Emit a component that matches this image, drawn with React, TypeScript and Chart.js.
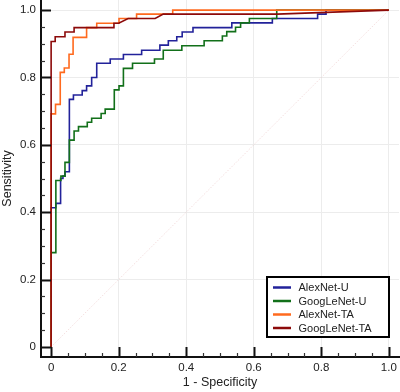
import React, { useEffect, useRef } from "react";
import { Chart, registerables } from "chart.js";

Chart.register(...registerables);

// ---- Data ----
const seriesNames = ["AlexNet-U", "GoogLeNet-U", "AlexNet-TA", "GoogLeNet-TA"];
const seriesColors = ["#22229a", "#12701a", "#ff6a1e", "#8c0a0a"];

const xTicks = [0, 0.2, 0.4, 0.6, 0.8, 1.0];
const xTickLabels = ["0", "0.2", "0.4", "0.6", "0.8", "1.0"];
const yTicks = [0, 0.2, 0.4, 0.6, 0.8, 1.0];
const yTickLabels = ["0", "0.2", "0.4", "0.6", "0.8", "1.0"];

const alexU_fpr = [0, 0, 0.014, 0.014, 0.028, 0.028, 0.035, 0.035, 0.041, 0.041, 0.054, 0.054, 0.066, 0.066, 0.092, 0.092, 0.105, 0.105, 0.12, 0.12, 0.135, 0.135, 0.175, 0.175, 0.214, 0.214, 0.268, 0.268, 0.322, 0.322, 0.347, 0.347, 0.372, 0.372, 0.388, 0.388, 0.42, 0.42, 0.535, 0.535, 0.655, 0.655, 0.789, 0.789, 0.814, 0.814, 1];
const alexU_tpr = [0, 0.413, 0.413, 0.426, 0.426, 0.5, 0.5, 0.507, 0.507, 0.52, 0.52, 0.735, 0.735, 0.748, 0.748, 0.761, 0.761, 0.775, 0.775, 0.8, 0.8, 0.842, 0.842, 0.855, 0.855, 0.868, 0.868, 0.881, 0.881, 0.896, 0.896, 0.909, 0.909, 0.921, 0.921, 0.935, 0.935, 0.948, 0.948, 0.962, 0.962, 0.975, 0.975, 0.988, 0.988, 1, 1];

const googU_fpr = [0, 0, 0.014, 0.014, 0.029, 0.029, 0.041, 0.041, 0.054, 0.054, 0.068, 0.068, 0.081, 0.081, 0.107, 0.107, 0.12, 0.12, 0.148, 0.148, 0.16, 0.16, 0.187, 0.187, 0.201, 0.201, 0.214, 0.214, 0.241, 0.241, 0.306, 0.306, 0.332, 0.332, 0.387, 0.387, 0.453, 0.453, 0.507, 0.507, 0.52, 0.52, 0.546, 0.546, 0.561, 0.561, 0.587, 0.587, 0.668, 0.668, 1];
const googU_tpr = [0, 0.28, 0.28, 0.494, 0.494, 0.507, 0.507, 0.548, 0.548, 0.614, 0.614, 0.641, 0.641, 0.654, 0.654, 0.667, 0.667, 0.679, 0.679, 0.693, 0.693, 0.706, 0.706, 0.763, 0.763, 0.775, 0.775, 0.827, 0.827, 0.842, 0.842, 0.855, 0.855, 0.881, 0.881, 0.894, 0.894, 0.909, 0.909, 0.923, 0.923, 0.936, 0.936, 0.949, 0.949, 0.962, 0.962, 0.975, 0.975, 1, 1];

const alexTA_fpr = [0, 0, 0.013, 0.013, 0.027, 0.027, 0.039, 0.039, 0.053, 0.053, 0.065, 0.065, 0.105, 0.105, 0.135, 0.135, 0.201, 0.201, 0.253, 0.253, 0.36, 0.36, 1];
const alexTA_tpr = [0, 0.692, 0.692, 0.72, 0.72, 0.815, 0.815, 0.828, 0.828, 0.869, 0.869, 0.919, 0.919, 0.948, 0.948, 0.961, 0.961, 0.975, 0.975, 0.988, 0.988, 1, 1];

const googTA_fpr = [0, 0, 0.012, 0.012, 0.041, 0.041, 0.068, 0.068, 0.186, 0.186, 0.2, 0.228, 0.308, 0.332, 0.669, 1];
const googTA_tpr = [0, 0.907, 0.907, 0.921, 0.921, 0.935, 0.935, 0.948, 0.948, 0.961, 0.961, 0.975, 0.975, 0.988, 0.988, 1];

const refLine_x = [0, 1];
const refLine_y = [0, 1];

const FONT = "'Liberation Sans', Arial, Helvetica, sans-serif";

function pts(xs: number[], ys: number[]) {
  return xs.map((x, i) => ({ x, y: ys[i] }));
}

const insideTicksPlugin = {
  id: "insideTicks",
  afterDraw(chart: any) {
    const ctx = chart.ctx;
    const xs = chart.scales.x;
    const ys = chart.scales.y;
    const area = chart.chartArea;
    ctx.save();
    for (let k = 0; k <= 20; k++) {
      const v = k * 0.05;
      const major = k % 4 === 0;
      const len = major ? 10 : 4;
      ctx.strokeStyle = major ? "#111" : "#333";
      ctx.lineWidth = major ? 2 : 1.2;
      const px = Math.round(xs.getPixelForValue(v)) + 0.5;
      ctx.beginPath();
      ctx.moveTo(px, area.bottom);
      ctx.lineTo(px, area.bottom - len);
      ctx.stroke();
      const py = Math.round(ys.getPixelForValue(v)) + 0.5;
      ctx.beginPath();
      ctx.moveTo(area.left, py);
      ctx.lineTo(area.left + len, py);
      ctx.stroke();
    }
    ctx.restore();
  },
};

const boxLegendPlugin = {
  id: "boxLegend",
  afterDraw(chart: any) {
    const ctx = chart.ctx;
    const area = chart.chartArea;
    const w = 122;
    const h = 60;
    const right = area.right - 10;
    const bottom = area.bottom - 20;
    const left = right - w;
    const top = bottom - h;
    ctx.save();
    ctx.fillStyle = "#fff";
    ctx.fillRect(left, top, w, h);
    ctx.strokeStyle = "#000";
    ctx.lineWidth = 2;
    ctx.strokeRect(left, top, w, h);
    ctx.font = `11px ${FONT}`;
    ctx.textBaseline = "middle";
    ctx.textAlign = "left";
    seriesNames.forEach((name, i) => {
      const y = top + 10.5 + i * 13.5;
      ctx.strokeStyle = seriesColors[i];
      ctx.lineWidth = 2.5;
      ctx.beginPath();
      ctx.moveTo(left + 6, y);
      ctx.lineTo(left + 24, y);
      ctx.stroke();
      ctx.fillStyle = "#222";
      ctx.fillText(name, left + 31.5, y + 0.5);
    });
    ctx.restore();
  },
};

export default function App() {
  const ref = useRef<HTMLCanvasElement | null>(null);

  useEffect(() => {
    if (!ref.current) return;
    const lineDs = (label: string, xs: number[], ys: number[], color: string, order: number) => ({
      label,
      data: pts(xs, ys),
      borderColor: color,
      backgroundColor: color,
      borderWidth: 1.6,
      pointRadius: 0,
      fill: false,
      tension: 0,
      order,
      clip: false as any,
    });
    const chart = new Chart(ref.current, {
      type: "line",
      data: {
        datasets: [
          lineDs(seriesNames[3], googTA_fpr, googTA_tpr, seriesColors[3], 0),
          lineDs(seriesNames[2], alexTA_fpr, alexTA_tpr, seriesColors[2], 1),
          lineDs(seriesNames[1], googU_fpr, googU_tpr, seriesColors[1], 2),
          lineDs(seriesNames[0], alexU_fpr, alexU_tpr, seriesColors[0], 3),
          {
            label: "ref",
            data: pts(refLine_x, refLine_y),
            borderColor: "rgba(225,170,170,0.55)",
            borderWidth: 0.7,
            borderDash: [1.5, 1.5],
            pointRadius: 0,
            fill: false,
            order: 5,
          } as any,
        ],
      },
      options: {
        animation: false,
        responsive: false,
        maintainAspectRatio: false,
        parsing: false as any,
        layout: { padding: { top: 0, right: 1, bottom: 0, left: 0 } },
        plugins: {
          legend: { display: false },
          tooltip: { enabled: false },
        },
        scales: {
          x: {
            type: "linear",
            min: -0.03,
            max: 1.03,
            afterBuildTicks: (s: any) => {
              s.ticks = xTicks.map((v) => ({ value: v }));
            },
            afterFit: (s: any) => {
              s.height = 35;
              s.paddingLeft = 0;
              s.paddingRight = 0;
              s.paddingTop = 0;
              s.paddingBottom = 0;
            },
            ticks: {
              callback: (_v: any, i: number) => xTickLabels[i],
              color: "#222",
              font: { family: FONT, size: 11.5 },
              padding: 4,
              maxRotation: 0,
              autoSkip: false,
            },
            grid: {
              color: (c: any) => (c.tick && c.tick.value === 0 ? "rgba(0,0,0,0)" : "#ececec"),
              lineWidth: 1,
              drawTicks: false,
            },
            border: { display: true, color: "#111", width: 2 },
            title: {
              display: true,
              text: "1 - Specificity",
              color: "#222",
              font: { family: FONT, size: 12.5 },
              padding: { top: 0, bottom: 2 },
            },
          },
          y: {
            type: "linear",
            min: -0.03,
            max: 1.03,
            afterBuildTicks: (s: any) => {
              s.ticks = yTicks.map((v) => ({ value: v }));
            },
            afterFit: (s: any) => {
              s.width = 41;
              s.paddingLeft = 0;
              s.paddingRight = 0;
              s.paddingTop = 0;
              s.paddingBottom = 0;
            },
            ticks: {
              callback: (_v: any, i: number) => yTickLabels[i],
              color: "#222",
              font: { family: FONT, size: 11.5 },
              padding: 5,
              autoSkip: false,
            },
            grid: {
              color: (c: any) => (c.tick && c.tick.value === 0 ? "rgba(0,0,0,0)" : "#ececec"),
              lineWidth: 1,
              drawTicks: false,
            },
            border: { display: true, color: "#111", width: 2 },
            title: {
              display: true,
              text: "Sensitivity",
              color: "#222",
              font: { family: FONT, size: 12.5 },
              padding: { top: 0, bottom: 0 },
            },
          },
        },
      },
      plugins: [insideTicksPlugin, boxLegendPlugin],
    } as any);
    return () => chart.destroy();
  }, []);

  return (
    <div style={{ position: "fixed", left: 0, top: 0, width: 400, height: 392, background: "#fff" }}>
      <canvas ref={ref} width={400} height={392} style={{ display: "block" }} />
    </div>
  );
}
